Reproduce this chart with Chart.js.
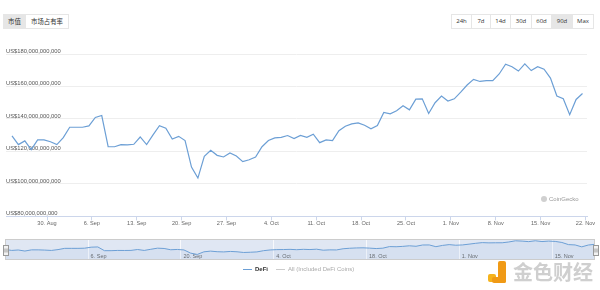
<!DOCTYPE html>
<html><head><meta charset="utf-8">
<script src="https://cdn.jsdelivr.net/npm/chart.js@4.4.0/dist/chart.umd.min.js"></script>
<style>
html,body{margin:0;padding:0;background:#fff;width:600px;height:290px;overflow:hidden;font-family:"Liberation Sans",Arial,sans-serif;}
#wrap{position:relative;width:600px;height:290px;}
canvas{position:absolute;left:0;}
#main{top:0;}
#nav{top:237px;}
.grp{position:absolute;top:14px;height:15px;display:flex;border:1px solid #e6e6e6;box-sizing:border-box;}
.grp span{display:block;height:13px;line-height:13px;text-align:center;color:#333;background:#fff;border-left:1px solid #e6e6e6;box-sizing:border-box;}
.grp span:first-child{border-left:none;}
.grp span.on{background:#e6e6e6;}
#left span{font-family:"Noto Sans CJK SC",sans-serif;font-size:6.4px;}
#right span{font-family:"Open Sans","Liberation Sans",sans-serif;font-size:6px;}
#legend{position:absolute;top:264px;left:0;width:600px;height:10px;font-size:6px;}
#legend .it{position:absolute;top:0;height:10px;line-height:10px;white-space:nowrap;}
#legend .ln{display:inline-block;width:9px;height:1.3px;vertical-align:middle;margin-right:3px;}
#credit{position:absolute;left:541px;top:194px;font-size:6px;color:#999;line-height:10px;white-space:nowrap;}
#credit i{display:inline-block;width:6px;height:6px;border-radius:50%;background:#d0d0d0;vertical-align:middle;margin-right:2px;}
#wm{position:absolute;left:486px;top:258px;width:112px;height:30px;}
#wm .a{position:absolute;left:2px;top:16px;width:8px;height:8px;background:#f5b31c;border-radius:2px;}
#wm .b{position:absolute;left:12px;top:3px;width:8px;height:22px;background:#f09a16;border-radius:2px;}
#wm .c{position:absolute;left:6px;top:19px;width:14px;height:6px;background:#f09a16;border-radius:2px;}
#wm .t{position:absolute;left:27px;top:0px;font-family:"Noto Sans CJK SC",sans-serif;font-size:20px;line-height:28px;color:#cfcfcf;font-weight:700;letter-spacing:0px;}
</style>
</head>
<body>
<div id="wrap">
  <canvas id="main" width="600" height="240"></canvas>
  <canvas id="nav" width="600" height="26"></canvas>
  <div class="grp" id="left" style="left:3px;">
    <span class="on" style="width:21px;">市值</span><span style="width:43px;">市场占有率</span>
  </div>
  <div class="grp" id="right" style="left:451px;">
    <span style="width:19px;">24h</span><span style="width:19px;">7d</span><span style="width:20px;">14d</span><span style="width:21px;">30d</span><span style="width:20px;">60d</span><span class="on" style="width:21px;">90d</span><span style="width:21px;">Max</span>
  </div>
  <div id="credit"><i></i>CoinGecko</div>
  <div id="legend">
    <div class="it" style="left:243px;color:#333;font-weight:bold;"><span class="ln" style="background:#6c9fd5;"></span>DeFi</div>
    <div class="it" style="left:276px;color:#aaa;"><span class="ln" style="background:#ccc;"></span>All (Included DeFi Coins)</div>
  </div>
  <div id="wm"><div class="a"></div><div class="b"></div><div class="c"></div><div class="t">金色财经</div></div>
</div>
<script>
// ---- data ----
const seriesName = 'DeFi';
const hiddenSeriesName = 'All (Included DeFi Coins)';
// DeFi market cap in billions USD, daily, ~24 Aug -> 22 Nov
const defiCap = [
  129.6,124.2,126.5,121.1,127.1,127.1,126.0,124.2,128.5,134.9,
  134.9,134.9,135.7,140.9,142.1,122.9,122.9,124.2,124.0,124.4,
  128.9,124.2,130.2,135.9,134.3,127.7,129.3,126.7,110.4,103.6,
  117.0,120.7,117.6,116.6,119.1,117.2,113.7,114.9,116.6,122.9,
  126.7,128.3,128.7,129.8,127.9,129.9,128.7,130.6,125.4,127.1,
  126.7,132.8,135.5,137.0,137.6,136.1,133.9,135.9,144.0,143.2,
  145.0,148.1,145.6,152.2,152.4,143.4,150.0,154.1,151.0,152.4,
  156.5,160.9,164.4,163.1,163.6,163.6,167.7,173.7,172.2,169.5,
  173.9,169.8,172.2,170.6,165.2,154.1,152.4,142.6,152.0,155.7
];
const xTickLabels = ['30. Aug','6. Sep','13. Sep','20. Sep','27. Sep','4. Oct','11. Oct','18. Oct','25. Oct','1. Nov','8. Nov','15. Nov','22. Nov'];
const navTickLabels = ['6. Sep','20. Sep','4. Oct','18. Oct','1. Nov','15. Nov'];
const yTickValues = [80,100,120,140,160,180];
const yTickLabels = ['US$80,000,000,000','US$100,000,000,000','US$120,000,000,000','US$140,000,000,000','US$160,000,000,000','US$180,000,000,000'];

// position of the 30 Aug tick in data-index units (points are daily)
const firstTickDay = 5.46;
const lineColor = '#6c9fd5';
const tickFont = {family:'Liberation Sans', size:5.6};

const pts = defiCap.map((v,i)=>({x:i,y:v}));

new Chart(document.getElementById('main'), {
  type:'line',
  data:{datasets:[{label:seriesName,data:pts,borderColor:lineColor,borderWidth:1.2,pointRadius:0,tension:0,fill:false}]},
  options:{
    responsive:false,animation:false,devicePixelRatio:1,
    layout:{padding:{left:6,right:13,top:54,bottom:3.6}},
    plugins:{legend:{display:false},tooltip:{enabled:false}},
    scales:{
      x:{type:'linear',min:-0.936,max:89.70,
        afterBuildTicks:s=>{s.ticks=xTickLabels.map((_,k)=>({value:firstTickDay+7*k}));},
        ticks:{autoSkip:false,maxRotation:0,padding:0,color:'#666',font:tickFont,
          labelOffset:c=>(c.index===xTickLabels.length-1?-8:0),
          callback:(v,i)=>xTickLabels[i]},
        grid:{drawOnChartArea:false,drawTicks:true,tickLength:4,color:'#ccd6eb'},
        border:{color:'#ccd6eb'},
        afterFit:s=>{s.height=20;}
      },
      y:{min:80,max:180,
        afterBuildTicks:s=>{s.ticks=yTickValues.map(v=>({value:v}));},
        ticks:{mirror:true,padding:0,labelOffset:-3,color:'#555',font:{family:'Liberation Sans',size:5.8},callback:(v,i)=>yTickLabels[i]},
        grid:{color:'#eeeeee',drawTicks:false},
        border:{display:false},
        afterFit:s=>{s.width=0;}
      }
    }
  }
});

// ---- navigator ----
const navPlugin = {
  id:'navDeco',
  beforeDatasetsDraw(chart){
    const {ctx,chartArea:a,scales:{x}} = chart;
    ctx.save();
    ctx.fillStyle='rgba(102,133,194,0.2)';
    ctx.fillRect(a.left,a.top,a.width,a.height);
    ctx.strokeStyle='rgba(255,255,255,0.75)';
    ctx.lineWidth=1;
    navTickLabels.forEach((lab,k)=>{
      const px = Math.round(x.getPixelForValue(firstTickDay+7+14*k))+0.5;
      ctx.beginPath();ctx.moveTo(px,a.top);ctx.lineTo(px,a.bottom);ctx.stroke();
    });
    ctx.fillStyle='#666';
    ctx.font='5.5px "Liberation Sans"';
    ctx.textBaseline='alphabetic';ctx.textAlign='left';
    navTickLabels.forEach((lab,k)=>{
      const px = x.getPixelForValue(firstTickDay+7+14*k);
      ctx.fillText(lab,px+3,a.bottom-2);
    });
    ctx.restore();
  },
  afterDraw(chart){
    const {ctx,chartArea:a} = chart;
    ctx.save();
    ctx.strokeStyle='#cccccc';ctx.lineWidth=1;
    ctx.strokeRect(Math.round(a.left)+0.5,Math.round(a.top)+0.5,Math.round(a.width)-1,Math.round(a.height)-1);
    [a.left,a.right].forEach(hx=>{
      const w=5,h=10,cy=(a.top+a.bottom)/2;
      const x0=Math.round(hx-w/2)+0.5,y0=Math.round(cy-h/2)+0.5;
      ctx.fillStyle='#f2f2f2';ctx.strokeStyle='#999';
      ctx.fillRect(x0,y0,w,h);ctx.strokeRect(x0,y0,w,h);
      ctx.beginPath();ctx.moveTo(x0+1.5,y0+3);ctx.lineTo(x0+1.5,y0+h-3);ctx.moveTo(x0+3.5,y0+3);ctx.lineTo(x0+3.5,y0+h-3);ctx.stroke();
    });
    ctx.restore();
  }
};
new Chart(document.getElementById('nav'), {
  type:'line',
  data:{datasets:[{label:seriesName,data:pts,borderColor:lineColor,borderWidth:1,pointRadius:0,tension:0,fill:'start',backgroundColor:'rgba(108,159,213,0.08)'}]},
  options:{
    responsive:false,animation:false,devicePixelRatio:1,
    layout:{padding:{left:5,right:5,top:2,bottom:3}},
    plugins:{legend:{display:false},tooltip:{enabled:false}},
    scales:{
      x:{type:'linear',min:0,max:89,display:false},
      y:{min:75,max:183,display:false}
    }
  },
  plugins:[navPlugin]
});
</script>
</body></html>
